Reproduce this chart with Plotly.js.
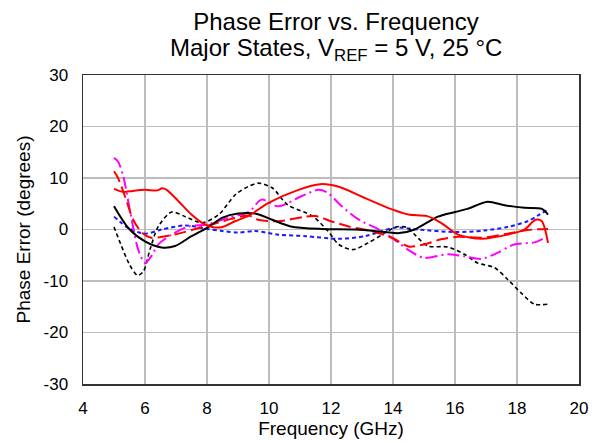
<!DOCTYPE html>
<html><head><meta charset="utf-8">
<script src="https://cdn.plot.ly/plotly-3.0.1.min.js"></script>
<style>html,body{margin:0;padding:0;background:#fff}#chart{width:605px;height:442px}</style>
</head><body><div id="chart"></div>
<script>
const redSolidX = [5.0, 5.3, 5.6, 6.0, 6.4, 6.55, 6.7, 7.08, 7.5, 7.84, 8.16, 8.5, 8.9, 9.35, 10.0, 10.95, 11.65, 12.25, 13.1, 13.97, 14.5, 15.1, 15.55, 16.1, 16.85, 17.7, 18.24, 18.6, 18.8, 19.0];
const redSolidY = [7.9, 7.3, 7.5, 7.7, 7.6, 8.0, 7.7, 5.5, 2.9, 1.3, 0.5, 0.5, 1.6, 2.7, 5.2, 7.7, 8.8, 8.3, 6.1, 3.9, 2.9, 2.6, 1.3, -1.0, -1.8, -1.0, 0.0, 1.9, 1.6, -2.6];

const blackSolidX = [5.0, 5.46, 6.0, 6.54, 6.97, 7.5, 8.0, 8.5, 9.0, 9.55, 10.1, 10.7, 11.7, 12.8, 13.75, 14.2, 14.7, 15.45, 16.0, 16.4, 17.05, 17.6, 18.24, 18.8, 19.0];
const blackSolidY = [4.5, 0.3, -2.3, -3.5, -3.2, -1.3, 0.3, 2.3, 3.1, 3.1, 1.9, 0.6, 0.1, 0.0, -0.5, -0.7, 0.0, 2.5, 3.4, 4.0, 5.4, 4.7, 4.2, 4.0, 2.9];

const blackDashX = [5.0, 5.24, 5.5, 5.76, 5.95, 6.16, 6.43, 6.86, 7.3, 7.84, 8.38, 8.92, 9.35, 9.65, 10.1, 10.6, 11.4, 11.9, 12.25, 12.7, 13.2, 13.65, 14.1, 14.45, 14.7, 15.12, 15.76, 16.3, 16.73, 17.27, 17.7, 18.13, 18.56, 19.0];
const blackDashY = [0.5, -3.2, -6.8, -8.9, -8.1, -3.9, 0.6, 3.4, 2.5, 1.3, 2.9, 6.8, 8.4, 9.0, 8.1, 4.8, 2.6, -0.3, -2.9, -3.9, -2.6, -1.0, 0.5, 0.4, -1.0, -3.2, -3.4, -4.8, -6.5, -7.4, -9.7, -12.3, -14.5, -14.5];

const blueDotX = [5.0, 5.46, 6.0, 6.54, 7.3, 8.0, 8.5, 9.0, 9.55, 10.3, 11.2, 12.25, 13.1, 13.65, 14.1, 14.8, 16.0, 16.95, 17.7, 18.34, 18.67, 18.95];
const blueDotY = [2.5, 0.3, -0.8, 0.0, 0.8, 0.1, -0.3, -0.6, -0.3, -1.0, -1.3, -1.8, -1.3, -0.3, 0.4, 0.0, -0.5, -0.2, 0.5, 1.6, 2.7, 3.7];

const magentaX = [5.0, 5.13, 5.3, 5.57, 5.78, 6.0, 6.2, 6.43, 6.86, 7.4, 8.0, 8.7, 9.35, 9.76, 10.3, 11.06, 11.6, 11.9, 12.35, 12.9, 13.54, 14.1, 14.5, 15.0, 15.76, 16.3, 16.85, 17.38, 17.9, 18.56, 18.8, 18.9];
const magentaY = [13.9, 13.2, 10.3, 1.9, -3.9, -6.5, -5.2, -2.9, -1.0, 0.6, 1.0, 2.3, 3.4, 5.8, 4.5, 6.5, 7.7, 7.1, 4.5, 1.9, 0.0, -2.2, -4.0, -5.5, -4.8, -5.2, -5.7, -4.5, -2.9, -2.5, -1.9, -1.6];

const redDashX = [5.0, 5.13, 5.35, 5.62, 5.9, 6.2, 6.65, 7.08, 7.73, 8.16, 8.8, 9.35, 9.65, 10.3, 11.17, 11.5, 12.0, 12.57, 13.3, 13.97, 14.5, 15.0, 15.55, 16.1, 16.85, 17.7, 18.34, 19.0];
const redDashY = [11.3, 10.0, 6.5, 1.9, -0.6, -1.6, -1.3, -0.8, 0.3, 1.0, 2.1, 2.7, 1.9, 1.6, 2.5, 2.6, 1.6, 0.6, -0.3, -1.6, -3.3, -2.9, -1.9, -1.4, -1.6, -0.8, -0.1, 0.1];

const xTicks = [4, 6, 8, 10, 12, 14, 16, 18, 20];
const yTicks = [-30, -20, -10, 0, 10, 20, 30];
const titleLine1 = 'Phase Error vs. Frequency';
const titleLine2 = 'Major States, V<sub>REF</sub> = 5 V, 25 °C';

function tr(x, y, color, dash, w) {
  return {x: x, y: y, type: 'scatter', mode: 'lines',
    line: {color: color, dash: dash, width: w, shape: 'spline', smoothing: 0.8},
    hoverinfo: 'skip', showlegend: false};
}
const data = [
  tr(blueDotX, blueDotY, '#1a1aff', '4px,3px', 2),
  tr(blackDashX, blackDashY, '#000000', '4px,3px', 1.6),
  tr(magentaX, magentaY, '#ff00ff', '12px,4px,2px,4px', 2),
  tr(redDashX, redDashY, '#ff0000', '12px,5px', 2),
  tr(blackSolidX, blackSolidY, '#000000', 'solid', 2),
  tr(redSolidX, redSolidY, '#ff0000', 'solid', 2)
];
const fam = 'Liberation Sans, Arial, sans-serif';
const layout = {
  width: 605, height: 442,
  margin: {l: 83, r: 26, t: 75, b: 58},
  paper_bgcolor: '#fff', plot_bgcolor: '#fff',
  font: {family: fam, size: 17, color: '#000'},
  title: {text: titleLine1, font: {family: fam, size: 24, color: '#000'},
    x: 0.51, xref: 'paper', xanchor: 'center', y: 1 - 22 / 442, yref: 'container', yanchor: 'middle'},
  annotations: [{text: titleLine2, xref: 'paper', yref: 'paper', x: 0.51, y: 1 + (75 - 50) / 309,
    xanchor: 'center', yanchor: 'middle', showarrow: false,
    font: {family: fam, size: 24, color: '#000'}}],
  xaxis: {range: [4, 20], tickvals: xTicks, ticktext: xTicks.map(String), ticks: '',
    showgrid: true, gridcolor: '#bdbdbd', gridwidth: 1.5, zeroline: false,
    showline: true, linecolor: '#333', linewidth: 1.5, mirror: true,
    ticklabelstandoff: 8,
    tickfont: {family: fam, size: 17, color: '#000'},
    title: {text: 'Frequency (GHz)', font: {family: fam, size: 19, color: '#000'}, standoff: 4}},
  yaxis: {range: [-30, 30], tickvals: yTicks, ticktext: yTicks.map(String), ticks: '',
    showgrid: true, gridcolor: '#bdbdbd', gridwidth: 1.5, zeroline: false,
    showline: true, linecolor: '#333', linewidth: 1.5, mirror: true,
    ticklabelstandoff: 10,
    tickfont: {family: fam, size: 17, color: '#000'},
    title: {text: 'Phase Error (degrees)', font: {family: fam, size: 19, color: '#000'}, standoff: 8}}
};
Plotly.newPlot('chart', data, layout, {displayModeBar: false, staticPlot: true});
</script></body></html>
